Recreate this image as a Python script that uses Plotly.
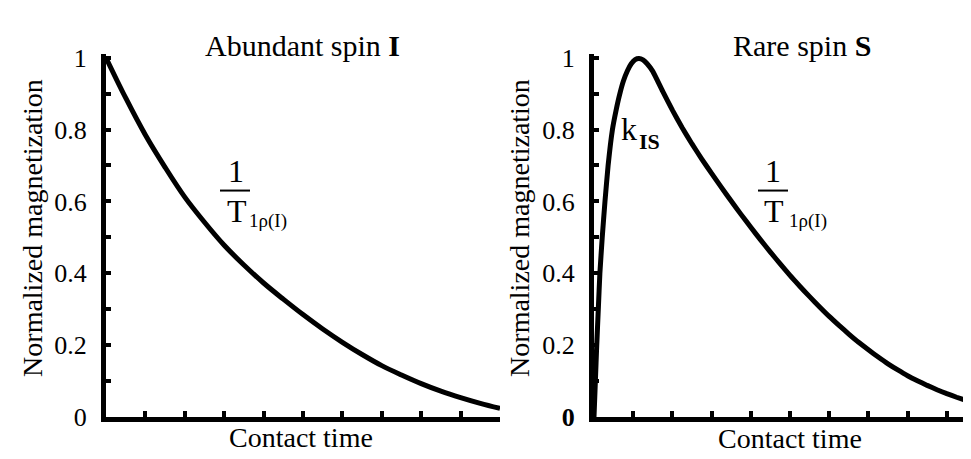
import plotly.graph_objects as go

# ---- data ----
time_I = [0, 0.5, 1, 1.5, 2, 2.5, 3, 3.5, 4, 4.5, 5, 5.5, 6, 6.5, 7, 7.5, 8, 8.5, 9, 9.5, 10]
mag_I = [1.0, 0.888, 0.785, 0.695, 0.612, 0.542, 0.478, 0.423, 0.373, 0.328, 0.285, 0.245,
         0.208, 0.174, 0.143, 0.117, 0.093, 0.072, 0.054, 0.038, 0.024]

time_S = [0, 0.035, 0.07, 0.11, 0.15, 0.21, 0.28, 0.36, 0.47, 0.56, 0.66, 0.75, 0.85, 0.95,
          1.05, 1.15, 1.25, 1.35, 1.5, 1.75, 2.0, 2.25, 2.5, 2.75, 3.0, 3.25, 3.5, 3.75,
          4.0, 4.25, 4.5, 4.75, 5.0, 5.25, 5.5, 5.75, 6.0, 6.25, 6.5, 6.75, 7.0, 7.25,
          7.5, 7.75, 8.0, 8.25, 8.5, 8.75, 9.0, 9.25, 9.5, 9.75, 9.85]
mag_S = [0, 0.1, 0.2, 0.3, 0.4, 0.5, 0.6, 0.7, 0.8, 0.852, 0.9, 0.935, 0.963, 0.983,
         0.995, 0.998, 0.994, 0.984, 0.962, 0.907, 0.854, 0.805, 0.76, 0.718, 0.678, 0.639,
         0.601, 0.564, 0.528, 0.493, 0.459, 0.426, 0.394, 0.364, 0.335, 0.307, 0.28, 0.255,
         0.231, 0.208, 0.187, 0.167, 0.148, 0.131, 0.115, 0.101, 0.088, 0.076, 0.065, 0.055,
         0.046, 0.037, 0.034]

y_ticks = [0, 0.1, 0.2, 0.3, 0.4, 0.5, 0.6, 0.7, 0.8, 0.9, 1.0]
y_labels_I = ["0", "", "0.2", "", "0.4", "", "0.6", "", "0.8", "", "1"]
y_labels_S = ["<b>0</b>", "", "0.2", "", "0.4", "", "0.6", "", "0.8", "", "1"]
x_ticks_I = [1, 2, 3, 4, 5, 6, 7, 8, 9, 10]
x_ticks_S = [1, 2, 3, 4, 5, 6, 7, 8, 9]

titles = ["Abundant spin <b>I</b>", "Rare spin <b>S</b>"]
y_title = "Normalized magnetization"
x_title = "Contact time"

FONT = "Liberation Serif, Times New Roman, serif"
W, H = 971, 459

def px(x):
    return x / W

def py(y):
    return 1 - y / H

fig = go.Figure()
fig.add_trace(go.Scatter(x=time_I, y=mag_I, mode="lines",
                         line=dict(color="black", width=5, shape="spline", smoothing=1.0),
                         xaxis="x", yaxis="y", showlegend=False, hoverinfo="skip"))
fig.add_trace(go.Scatter(x=time_S, y=mag_S, mode="lines",
                         line=dict(color="black", width=5, shape="spline", smoothing=0.4),
                         xaxis="x2", yaxis="y2", showlegend=False, hoverinfo="skip"))

ydom = [py(422), py(422 - 380 * 1.01)]
common_x = dict(showgrid=False, zeroline=False, showline=True, linecolor="black", linewidth=5,
                ticks="inside", ticklen=6, tickwidth=4, tickcolor="black", showticklabels=False)
common_y = dict(showgrid=False, zeroline=False, showline=True, linecolor="black", linewidth=5,
                ticks="inside", ticklen=5, tickwidth=4, tickcolor="black", range=[0, 1.01],
                tickmode="array", tickvals=y_ticks, domain=ydom,
                tickfont=dict(family=FONT, size=26, color="black"), ticklabelstandoff=9)

fig.update_layout(
    width=W, height=H, margin=dict(l=0, r=0, t=0, b=0),
    paper_bgcolor="white", plot_bgcolor="white",
    xaxis=dict(common_x, domain=[px(98), px(492)], range=[0, 10], tickmode="array",
               tickvals=x_ticks_I, anchor="y"),
    yaxis=dict(common_y, ticktext=y_labels_I, anchor="x"),
    xaxis2=dict(common_x, domain=[px(586), 1.0], range=[0, (971 - 586) / 39.2], tickmode="array",
                tickvals=x_ticks_S, anchor="y2"),
    yaxis2=dict(common_y, ticktext=y_labels_S, anchor="x2"),
)

def blk(size):
    return dict(family=FONT, size=size, color="black")

ann = []
# panel titles
for text, xc in ((titles[0], 294), (titles[1], 794)):
    ann.append(dict(text=text, x=px(xc), y=py(29), xref="paper", yref="paper", showarrow=False,
                    font=blk(30), xanchor="center", yanchor="middle"))
# axis titles
for xc in (25, 512):
    ann.append(dict(text=y_title, x=px(xc), y=py(222), xref="paper", yref="paper", showarrow=False,
                    textangle=-90, font=blk(28), xanchor="center", yanchor="middle"))
for xc, yc in ((293, 444), (782, 445)):
    ann.append(dict(text=x_title, x=px(xc), y=py(yc), xref="paper", yref="paper", showarrow=False,
                    font=blk(28), xanchor="center", yanchor="middle"))

# fraction labels 1 / T_1rho(I)  (pixel anchors in the 971x459 picture)
shapes = []
for xc, bar_l, bar_r, sub_l in ((228, 212, 242, 240), (765, 750, 780, 780)):
    ann.append(dict(text="1", x=px(xc), y=py(182), xref="paper", yref="paper", showarrow=False,
                    font=blk(32), xanchor="center", yanchor="bottom", borderpad=0))
    ann.append(dict(text="T", x=px(xc + 1), y=py(183.5), xref="paper", yref="paper", showarrow=False,
                    font=blk(32), xanchor="center", yanchor="top", borderpad=0))
    ann.append(dict(text="1ρ(I)", x=px(sub_l), y=py(215), xref="paper", yref="paper", showarrow=False,
                    font=blk(19), xanchor="left", yanchor="middle", borderpad=0))
    shapes.append(dict(type="line", xref="paper", yref="paper", x0=px(bar_l), x1=px(bar_r),
                       y0=py(182.5), y1=py(182.5), line=dict(color="black", width=2)))

# k_IS label
ann.append(dict(text="k", x=px(621), y=py(117), xref="paper", yref="paper", showarrow=False,
                font=blk(32), xanchor="center", yanchor="middle", borderpad=0))
ann.append(dict(text="<b>IS</b>", x=px(630), y=py(131), xref="paper", yref="paper", showarrow=False,
                font=blk(22), xanchor="left", yanchor="middle", borderpad=0))

fig.update_layout(annotations=ann, shapes=shapes)
fig.write_html("out.html")
